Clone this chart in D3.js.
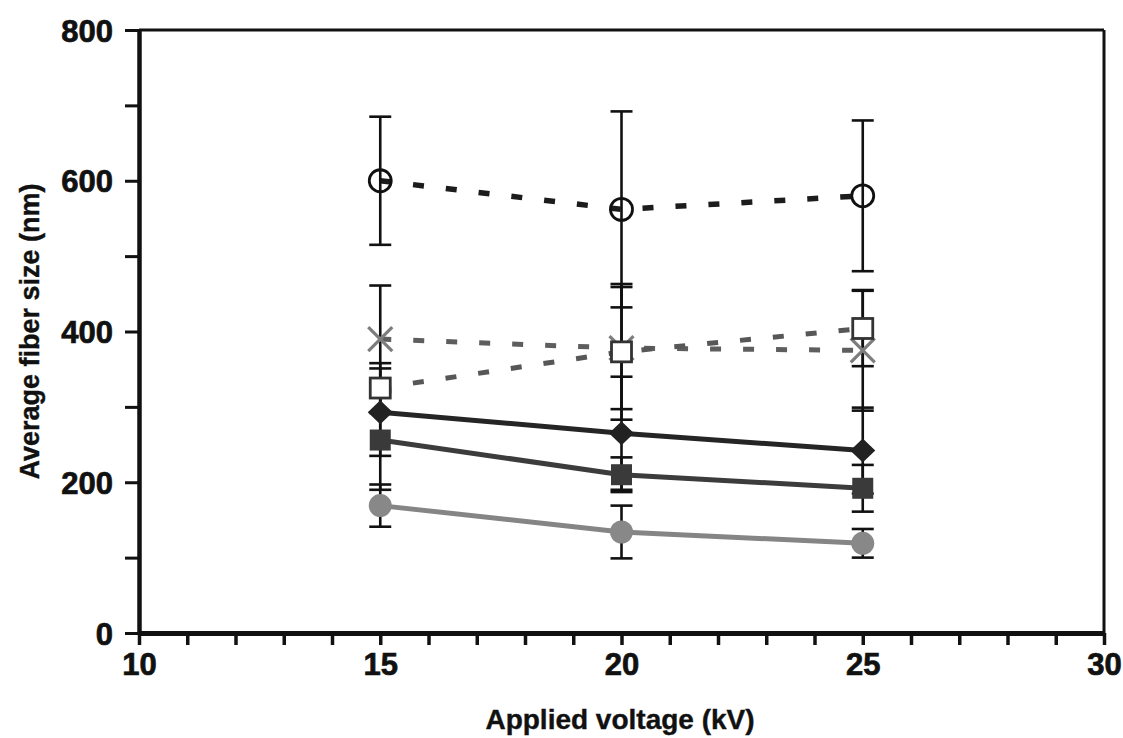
<!DOCTYPE html>
<html>
<head>
<meta charset="utf-8">
<script src="https://cdn.jsdelivr.net/npm/d3@7"></script>
<style>
  body { margin: 0; background: #fff; }
  svg { display: block; }
  text { font-family: "Liberation Sans", Arial, sans-serif; font-weight: bold; fill: #111; }
</style>
</head>
<body>
<svg id="chart" width="1123" height="738"></svg>
<script>
// Applied voltage (kV)
const voltages = [15, 20, 25];

// Average fiber size (nm) and standard deviation per series
const sizeOpenCircle   = [600, 562, 580];
const errOpenCircle    = [85, 130, 100];
const sizeCross        = [390, 378, 375];
const errCross         = [71, 81, 80];
const sizeOpenSquare   = [325, 373, 404];
const errOpenSquare    = [33, 90, 50];
const sizeDiamond      = [293, 265, 242];
const errDiamond       = [58, 75, 57];
const sizeFilledSquare = [256, 210, 192];
const errFilledSquare  = [66, 23, 31];
const sizeFilledCircle = [169, 134, 119];
const errFilledCircle  = [28, 35, 19];

// Axis ticks
const xTicks = [10, 15, 20, 25, 30];
const yTicks = [0, 200, 400, 600, 800];
const xMinorTicks = d3.range(10, 31, 1);
const yMinorTicks = d3.range(0, 801, 100);

const svg = d3.select("#chart");
const plotLeft = 139, plotRight = 1104, plotTop = 30, plotBottom = 633;

const x = d3.scaleLinear().domain([10, 30]).range([plotLeft, plotRight]);
const y = d3.scaleLinear().domain([0, 800]).range([plotBottom, plotTop]);

const series = [
  { key: "openCircle",   values: sizeOpenCircle,   errors: errOpenCircle,   marker: "openCircle",   line: "#1c1c1c", width: 5.5, dashed: true },
  { key: "cross",        values: sizeCross,        errors: errCross,        marker: "cross",        line: "#5e5e5e", width: 5,   dashed: true },
  { key: "openSquare",   values: sizeOpenSquare,   errors: errOpenSquare,   marker: "openSquare",   line: "#575757", width: 5,   dashed: true },
  { key: "diamond",      values: sizeDiamond,      errors: errDiamond,      marker: "diamond",      line: "#252525", width: 5,   dashed: false },
  { key: "filledSquare", values: sizeFilledSquare, errors: errFilledSquare, marker: "filledSquare", line: "#3c3c3c", width: 5,   dashed: false },
  { key: "filledCircle", values: sizeFilledCircle, errors: errFilledCircle, marker: "filledCircle", line: "#858585", width: 5,   dashed: false }
];

// Frame (top and right edges)
svg.append("line").attr("x1", plotLeft).attr("x2", plotRight).attr("y1", plotTop).attr("y2", plotTop)
  .attr("stroke", "#111").attr("stroke-width", 3);
svg.append("line").attr("x1", plotRight).attr("x2", plotRight).attr("y1", plotTop).attr("y2", plotBottom)
  .attr("stroke", "#111").attr("stroke-width", 3);

// Y axis
const yAxis = svg.append("g").attr("transform", `translate(${plotLeft},0)`)
  .call(d3.axisLeft(y).tickValues(yMinorTicks).tickSize(14).tickSizeOuter(0)
    .tickFormat(d => yTicks.includes(d) ? d : ""));
yAxis.select(".domain").attr("stroke", "#111").attr("stroke-width", 4.5);
yAxis.selectAll(".tick line").attr("stroke", "#111").attr("stroke-width", 3);
yAxis.selectAll(".tick text").attr("x", -26).attr("dy", "0.36em")
  .style("font-size", "31px").attr("fill", "#111")
  .attr("stroke", "#111").attr("stroke-width", 0.7);

// X axis
const xAxis = svg.append("g").attr("transform", `translate(0,${plotBottom})`)
  .call(d3.axisBottom(x).tickValues(xMinorTicks).tickSize(12).tickSizeOuter(0)
    .tickFormat(d => xTicks.includes(d) ? d : ""));
xAxis.select(".domain").attr("stroke", "#111").attr("stroke-width", 5);
xAxis.selectAll(".tick line").attr("stroke", "#111").attr("stroke-width", 3.5);
xAxis.selectAll(".tick text").attr("y", 20).attr("dy", "0.71em")
  .style("font-size", "31px").attr("fill", "#111")
  .attr("stroke", "#111").attr("stroke-width", 0.7);

// Axis titles
svg.append("text").attr("x", 620).attr("y", 729)
  .attr("text-anchor", "middle").style("font-size", "28px")
  .attr("stroke", "#111").attr("stroke-width", 0.4).text("Applied voltage (kV)");
svg.append("text").attr("transform", `translate(39,${(plotTop + plotBottom) / 2}) rotate(-90)`)
  .attr("text-anchor", "middle").style("font-size", "27px")
  .attr("stroke", "#111").attr("stroke-width", 0.4).text("Average fiber size (nm)");

// Connecting lines
const lineGen = d3.line().x((d, i) => x(voltages[i])).y(d => y(d));
svg.append("g").selectAll("path").data(series).join("path")
  .attr("d", s => lineGen(s.values))
  .attr("fill", "none")
  .attr("stroke", s => s.line)
  .attr("stroke-width", s => s.width)
  .attr("stroke-dasharray", s => s.dashed ? "11,22" : null);

// Error bars
const capHalf = 11;
const bars = svg.append("g").attr("stroke", "#111").attr("stroke-width", 2.6);
series.forEach(s => {
  s.values.forEach((v, i) => {
    const cx = x(voltages[i]);
    const y1 = y(v + s.errors[i]), y2 = y(v - s.errors[i]);
    bars.append("line").attr("x1", cx).attr("x2", cx).attr("y1", y1).attr("y2", y2);
    bars.append("line").attr("x1", cx - capHalf).attr("x2", cx + capHalf).attr("y1", y1).attr("y2", y1);
    bars.append("line").attr("x1", cx - capHalf).attr("x2", cx + capHalf).attr("y1", y2).attr("y2", y2);
  });
});

// Markers
const markers = svg.append("g");
function drawMarker(type, cx, cy) {
  const g = markers.append("g").attr("transform", `translate(${cx},${cy})`);
  switch (type) {
    case "openCircle":
      g.append("circle").attr("r", 11).attr("fill", "none").attr("stroke", "#111").attr("stroke-width", 2.8);
      break;
    case "cross":
      g.append("path").attr("d", "M-12,-12L12,12M-12,12L12,-12")
        .attr("stroke", "#7d7d7d").attr("stroke-width", 3.2).attr("fill", "none");
      break;
    case "openSquare":
      g.append("rect").attr("x", -10).attr("y", -10).attr("width", 20).attr("height", 20)
        .attr("fill", "#fff").attr("stroke", "#333").attr("stroke-width", 2.8);
      break;
    case "diamond":
      g.append("path").attr("d", "M0,-12L12.5,0L0,12L-12.5,0Z").attr("fill", "#222");
      break;
    case "filledSquare":
      g.append("rect").attr("x", -10.5).attr("y", -10.5).attr("width", 21).attr("height", 21).attr("fill", "#3a3a3a");
      break;
    case "filledCircle":
      g.append("circle").attr("r", 11.5).attr("fill", "#888");
      break;
  }
}
series.forEach(s => {
  s.values.forEach((v, i) => drawMarker(s.marker, x(voltages[i]), y(v)));
});
</script>
</body>
</html>
